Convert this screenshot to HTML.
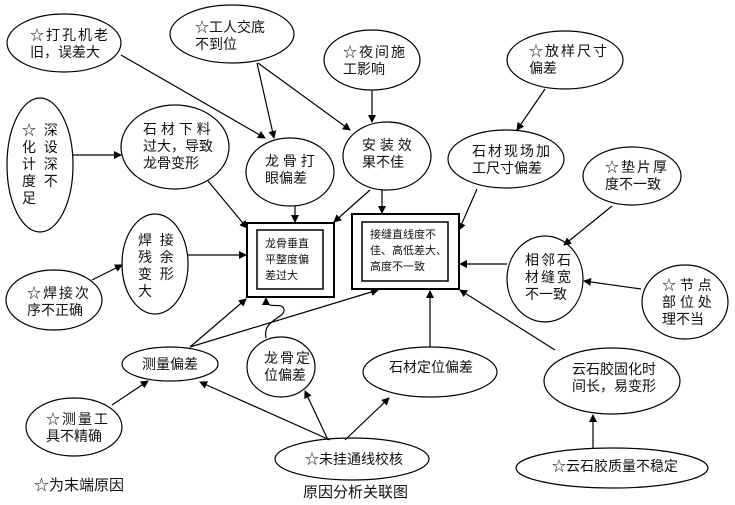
<!DOCTYPE html>
<html><head><meta charset="utf-8"><style>
html,body{margin:0;padding:0;background:#fff;}
svg{display:block;}
text{font-family:"Liberation Sans","Noto Sans CJK SC",sans-serif;font-size:14px;fill:#111;white-space:pre;}
.s{font-size:11px;}
.w{letter-spacing:2px;}
</style></head><body>
<svg width="735" height="505" viewBox="0 0 735 505" xmlns="http://www.w3.org/2000/svg" xml:space="preserve">
<defs><marker id="a" markerWidth="8" markerHeight="8" refX="7" refY="4" orient="auto" markerUnits="userSpaceOnUse"><path d="M0,0 L8,4 L0,8 z" fill="#000"/></marker></defs>
<g fill="none" stroke="#000" stroke-width="1.2">
<ellipse cx="64" cy="43" rx="57" ry="29"/>
<ellipse cx="232" cy="34" rx="62" ry="29"/>
<ellipse cx="372" cy="60" rx="48" ry="30"/>
<ellipse cx="565" cy="60" rx="58" ry="29"/>
<ellipse cx="40" cy="165" rx="33" ry="67"/>
<ellipse cx="175" cy="147" rx="54" ry="42"/>
<ellipse cx="290" cy="172" rx="44" ry="34"/>
<ellipse cx="387" cy="156" rx="44" ry="34"/>
<ellipse cx="506" cy="159" rx="58" ry="29"/>
<ellipse cx="632" cy="176" rx="49" ry="29"/>
<ellipse cx="155" cy="264" rx="33" ry="50"/>
<ellipse cx="54" cy="300" rx="48" ry="30"/>
<ellipse cx="545" cy="279" rx="38" ry="43"/>
<ellipse cx="685" cy="302" rx="43" ry="37"/>
<ellipse cx="170" cy="364" rx="48" ry="17"/>
<ellipse cx="281" cy="367" rx="34" ry="30"/>
<ellipse cx="430" cy="372" rx="67" ry="25"/>
<ellipse cx="612" cy="381" rx="68" ry="33"/>
<ellipse cx="74" cy="427" rx="48" ry="29"/>
<ellipse cx="352" cy="459" rx="77" ry="21"/>
<ellipse cx="612" cy="468" rx="96" ry="20"/>
</g>
<g fill="none" stroke="#000" stroke-width="2">
<rect x="247" y="223" width="87" height="74"/>
<rect x="352" y="214" width="107" height="75"/>
</g>
<g fill="none" stroke="#000" stroke-width="1.5">
<rect x="257" y="230" width="66" height="59"/>
<rect x="362" y="222" width="86" height="59"/>
</g>
<g stroke="#000" stroke-width="1.2" fill="none" marker-end="url(#a)">
<line x1="121" y1="55" x2="265" y2="138"/>
<line x1="257" y1="63" x2="274" y2="138"/>
<line x1="258" y1="63" x2="350" y2="130"/>
<line x1="372" y1="90" x2="372" y2="122"/>
<line x1="545" y1="89" x2="517" y2="130"/>
<line x1="73" y1="155" x2="121" y2="155"/>
<line x1="208" y1="181" x2="247" y2="228"/>
<line x1="295" y1="206" x2="295" y2="222"/>
<line x1="382" y1="190" x2="382" y2="213"/>
<line x1="370" y1="190" x2="334" y2="222"/>
<line x1="477" y1="189" x2="459" y2="230"/>
<line x1="612" y1="206" x2="564" y2="245"/>
<line x1="188" y1="255" x2="246" y2="255"/>
<line x1="92" y1="280" x2="122" y2="265"/>
<line x1="507" y1="264" x2="460" y2="264"/>
<line x1="641" y1="289" x2="584" y2="281"/>
<line x1="190" y1="347" x2="246" y2="299"/>
<line x1="190" y1="347" x2="378" y2="290"/>
<path d="M266,338 C262,320 285,318 284,310 C283,300 266,312 266,298"/>
<line x1="430" y1="347" x2="430" y2="291"/>
<line x1="555" y1="350" x2="460" y2="290"/>
<line x1="593" y1="448" x2="593" y2="415"/>
<line x1="112" y1="405" x2="148" y2="381"/>
<line x1="330" y1="440" x2="200" y2="382"/>
<line x1="328" y1="440" x2="305" y2="391"/>
<line x1="345" y1="440" x2="389" y2="398"/>
</g>
<text x="30" y="40" class="w">☆打孔机老</text><text x="30" y="57">旧，误差大</text>
<text x="195" y="32">☆工人交底</text><text x="195" y="49">不到位</text>
<text x="343" y="57" class="w">☆夜间施</text><text x="343" y="74">工影响</text>
<text x="529" y="56" class="w">☆放样尺寸</text><text x="529" y="73">偏差</text>
<text x="22" y="135">☆  深</text><text x="22" y="152">化  设</text><text x="22" y="169">计  深</text><text x="22" y="186">度  不</text><text x="22" y="203">足</text>
<text x="143" y="134">石 材 下 料</text><text x="143" y="151">过大，导致</text><text x="143" y="168">龙骨变形</text>
<text x="265" y="166">龙 骨 打</text><text x="265" y="183">眼偏差</text>
<text x="362" y="150">安 装 效</text><text x="362" y="167">果不佳</text>
<text x="472" y="156" class="w">石材现场加</text><text x="472" y="173">工尺寸偏差</text>
<text x="605" y="172" class="w">☆垫片厚</text><text x="605" y="189">度不一致</text>
<text x="138" y="245">焊  接</text><text x="138" y="262">残  余</text><text x="138" y="279">变  形</text><text x="138" y="296">大</text>
<text x="27" y="298" class="w">☆焊接次</text><text x="27" y="315">序不正确</text>
<text x="525" y="265" class="w">相邻石</text><text x="525" y="282" class="w">材缝宽</text><text x="525" y="299">不一致</text>
<text x="662" y="290">☆ 节 点</text><text x="662" y="307">部 位 处</text><text x="662" y="324">理不当</text>
<text x="142" y="369">测量偏差</text>
<text x="264" y="363" class="w">龙骨定</text><text x="264" y="380">位偏差</text>
<text x="389" y="372">石材定位偏差</text>
<text x="572" y="374">云石胶固化时</text><text x="572" y="391">间长，易变形</text>
<text x="46" y="424" class="w">☆测量工</text><text x="46" y="441">具不精确</text>
<text x="305" y="464">☆未挂通线校核</text>
<text x="552" y="471">☆云石胶质量不稳定</text>
<text class="s" x="265" y="247">龙骨垂直</text><text class="s" x="265" y="263">平整度偏</text><text class="s" x="265" y="279">差过大</text>
<text class="s" x="370" y="238">接缝直线度不</text><text class="s" x="370" y="254">佳、高低差大、</text><text class="s" x="370" y="270">高度不一致</text>
<text x="34" y="490" style="font-size:15px">☆为末端原因</text>
<text x="303" y="497" style="font-size:15px">原因分析关联图</text>
</svg>
</body></html>
